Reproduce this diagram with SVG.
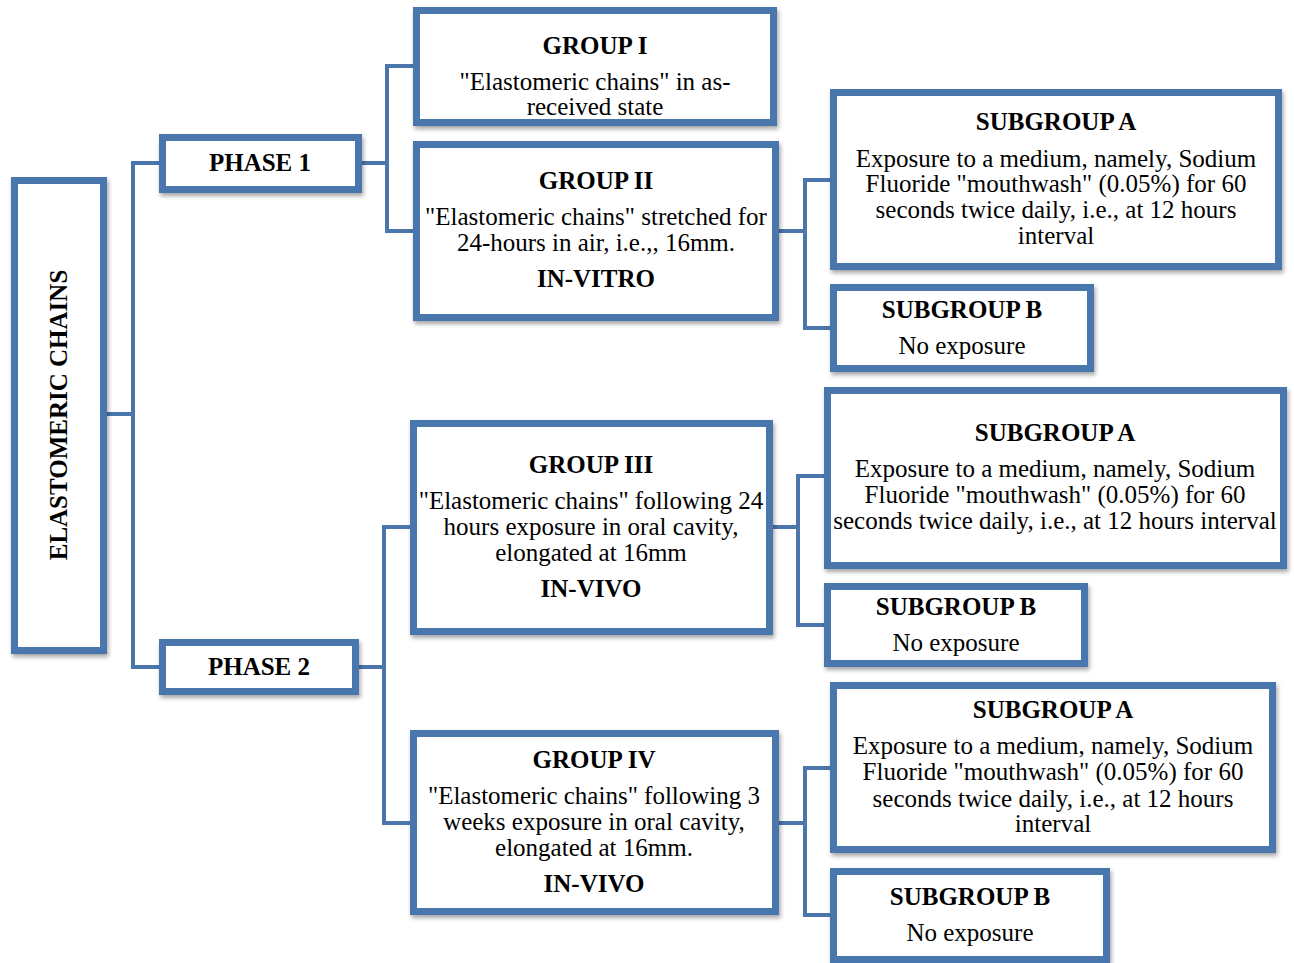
<svg xmlns="http://www.w3.org/2000/svg" width="1294" height="963" viewBox="0 0 1294 963">
<defs>
<filter id="sh" x="-10%" y="-10%" width="120%" height="130%">
<feDropShadow dx="1.5" dy="3" stdDeviation="2" flood-color="#000" flood-opacity="0.35"/>
</filter>
<style>
.box{fill:#fff;stroke:#4a76ac;stroke-width:7;filter:url(#sh)}
.con{fill:none;stroke:#4a76ac;stroke-width:4}
text{font-family:"Liberation Serif","Times New Roman",serif;font-size:25px;fill:#000;text-anchor:middle}
.b{font-weight:bold}
</style>
</defs>
<rect width="1294" height="963" fill="#fff"/>
<g id="connectors">
<path class="con" d="M107,414H133M159,163H133V667H159"/>
<path class="con" d="M361,163H387M413,66H387V231H413"/>
<path class="con" d="M779,231H805M830,180H805V328H830"/>
<path class="con" d="M358,667H384M410,527H384V823H410"/>
<path class="con" d="M773,527H798M824,476H798V625H824"/>
<path class="con" d="M779,823H805M830,768H805V915H830"/>
</g>
<g id="root">
<rect class="box" x="14.5" y="180.5" width="89" height="470"/>
<text class="b" transform="translate(67,415) rotate(-90)">ELASTOMERIC CHAINS</text>
</g>
<g id="phase1">
<rect class="box" x="162.5" y="137.5" width="196" height="52"/>
<text class="b" x="260" y="171">PHASE 1</text>
</g>
<g id="phase2">
<rect class="box" x="162.5" y="642.5" width="193" height="49"/>
<text class="b" x="259" y="675">PHASE 2</text>
</g>
<g id="group1">
<rect class="box" x="416.5" y="10.5" width="357" height="112"/>
<text class="b" x="595" y="54">GROUP I</text>
<text x="595" y="90">"Elastomeric chains" in as-</text>
<text x="595" y="115">received state</text>
</g>
<g id="group2">
<rect class="box" x="416.5" y="144.5" width="359" height="173"/>
<text class="b" x="596" y="189">GROUP II</text>
<text x="596" y="225">"Elastomeric chains" stretched for</text>
<text x="596" y="251">24-hours in air, i.e.,, 16mm.</text>
<text class="b" x="596" y="287">IN-VITRO</text>
</g>
<g id="subA1">
<rect class="box" x="833.5" y="92.5" width="445" height="174"/>
<text class="b" x="1056" y="130">SUBGROUP A</text>
<text x="1056" y="167">Exposure to a medium, namely, Sodium</text>
<text x="1056" y="192">Fluoride "mouthwash" (0.05%) for 60</text>
<text x="1056" y="218">seconds twice daily, i.e., at 12 hours</text>
<text x="1056" y="244">interval</text>
</g>
<g id="subB1">
<rect class="box" x="833.5" y="287.5" width="257" height="81"/>
<text class="b" x="962" y="318">SUBGROUP B</text>
<text x="962" y="354">No exposure</text>
</g>
<g id="group3">
<rect class="box" x="413.5" y="423.5" width="356" height="208"/>
<text class="b" x="591" y="473">GROUP III</text>
<text x="591" y="509">"Elastomeric chains" following 24</text>
<text x="591" y="535">hours exposure in oral cavity,</text>
<text x="591" y="561">elongated at 16mm</text>
<text class="b" x="591" y="597">IN-VIVO</text>
</g>
<g id="subA2">
<rect class="box" x="827.5" y="390.5" width="456" height="175"/>
<text class="b" x="1055" y="441">SUBGROUP A</text>
<text x="1055" y="477">Exposure to a medium, namely, Sodium</text>
<text x="1055" y="503">Fluoride "mouthwash" (0.05%) for 60</text>
<text x="1055" y="529">seconds twice daily, i.e., at 12 hours interval</text>
</g>
<g id="subB2">
<rect class="box" x="827.5" y="586.5" width="257" height="77"/>
<text class="b" x="956" y="615">SUBGROUP B</text>
<text x="956" y="651">No exposure</text>
</g>
<g id="group4">
<rect class="box" x="413.5" y="733.5" width="362" height="178"/>
<text class="b" x="594" y="768">GROUP IV</text>
<text x="594" y="804">"Elastomeric chains" following 3</text>
<text x="594" y="830">weeks exposure in oral cavity,</text>
<text x="594" y="856">elongated at 16mm.</text>
<text class="b" x="594" y="892">IN-VIVO</text>
</g>
<g id="subA3">
<rect class="box" x="833.5" y="685.5" width="439" height="164"/>
<text class="b" x="1053" y="718">SUBGROUP A</text>
<text x="1053" y="754">Exposure to a medium, namely, Sodium</text>
<text x="1053" y="780">Fluoride "mouthwash" (0.05%) for 60</text>
<text x="1053" y="807">seconds twice daily, i.e., at 12 hours</text>
<text x="1053" y="832">interval</text>
</g>
<g id="subB3">
<rect class="box" x="833.5" y="871.5" width="273" height="88"/>
<text class="b" x="970" y="905">SUBGROUP B</text>
<text x="970" y="941">No exposure</text>
</g>
</svg>
